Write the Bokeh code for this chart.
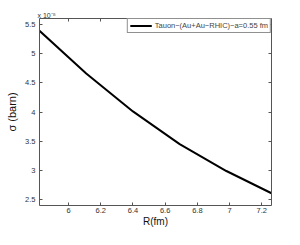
import numpy as np
from bokeh.plotting import figure
from bokeh.models import (LinearAxis, FixedTicker, Range1d, Legend, LegendItem, Title)
from bokeh.embed import file_html
from bokeh.resources import INLINE

# Data: R in fm, sigma in units of 1e-8 barn
R_fm = [5.82, 6.11, 6.40, 6.69, 6.98, 7.26]
sigma_e8 = [5.39, 4.66, 4.01, 3.45, 2.99, 2.61]
series_label = "Tauon\u2212(Au+Au\u2212RHIC)\u2212a=0.55 fm"

x_ticks = [6, 6.2, 6.4, 6.6, 6.8, 7, 7.2]
x_tick_labels = ["6", "6.2", "6.4", "6.6", "6.8", "7", "7.2"]
y_ticks = [2.5, 3, 3.5, 4, 4.5, 5, 5.5]
y_tick_labels = ["2.5", "3", "3.5", "4", "4.5", "5", "5.5"]
scale_text = "x 10\u207b\u2078"

FONT = "Liberation Sans"
AX = "#555555"

p = figure(width=284, height=229, output_backend="svg", toolbar_location=None,
           x_range=Range1d(min(R_fm), max(R_fm)), y_range=Range1d(2.4, 5.6),
           min_border_left=39, min_border_right=13, min_border_top=18, min_border_bottom=20)
p.grid.visible = False
p.outline_line_color = None
p.background_fill_color = "white"
p.border_fill_color = "white"

r = p.line(R_fm, sigma_e8, line_color="black", line_width=2)

def style(ax):
    ax.axis_line_color = AX
    ax.axis_line_width = 1
    ax.major_tick_line_color = AX
    ax.major_tick_in = 3
    ax.major_tick_out = 0
    ax.minor_tick_line_color = None
    ax.major_label_text_font = FONT
    ax.major_label_text_font_size = "7.5px"
    ax.major_label_text_color = "#333333"
    ax.axis_label_text_font = FONT
    ax.axis_label_text_font_style = "normal"
    ax.axis_label_text_color = "#111111"

xa = p.xaxis[0]
xa.ticker = FixedTicker(ticks=x_ticks)
xa.major_label_overrides = dict(zip(x_ticks, x_tick_labels))
xa.axis_label = "R(fm)"
style(xa)
xa.axis_label_text_font_size = "10px"
xa.major_label_standoff = 2
xa.axis_label_standoff = 0

ya = p.yaxis[0]
ya.ticker = FixedTicker(ticks=y_ticks)
ya.major_label_overrides = dict(zip(y_ticks, y_tick_labels))
ya.axis_label = "\u03c3 (barn)"
style(ya)
ya.axis_label_text_font_size = "11px"
ya.major_label_standoff = 4
ya.axis_label_standoff = 4

top = LinearAxis(ticker=FixedTicker(ticks=x_ticks))
style(top)
top.major_label_overrides = {t: "" for t in x_ticks}
top.major_label_standoff = 0
p.add_layout(top, "above")
right = LinearAxis(ticker=FixedTicker(ticks=y_ticks))
style(right)
right.major_label_overrides = {t: "" for t in y_ticks}
right.major_label_standoff = 0
p.add_layout(right, "right")

t = Title(text=scale_text, align="left", offset=-2, standoff=0,
          text_font=FONT, text_font_size="7px", text_font_style="normal",
          text_color="#333333")
p.add_layout(t, "above")

legend = Legend(items=[LegendItem(label=series_label, renderers=[r])],
                location="top_right", margin=0, padding=2, spacing=0,
                glyph_width=22, glyph_height=9, label_standoff=3,
                label_text_font=FONT, label_text_font_size="7.5px",
                label_height=9,
                border_line_color="#222222", border_line_width=1,
                background_fill_color="white", background_fill_alpha=1)
p.add_layout(legend)

open("out.html", "w").write(file_html(p, INLINE))
